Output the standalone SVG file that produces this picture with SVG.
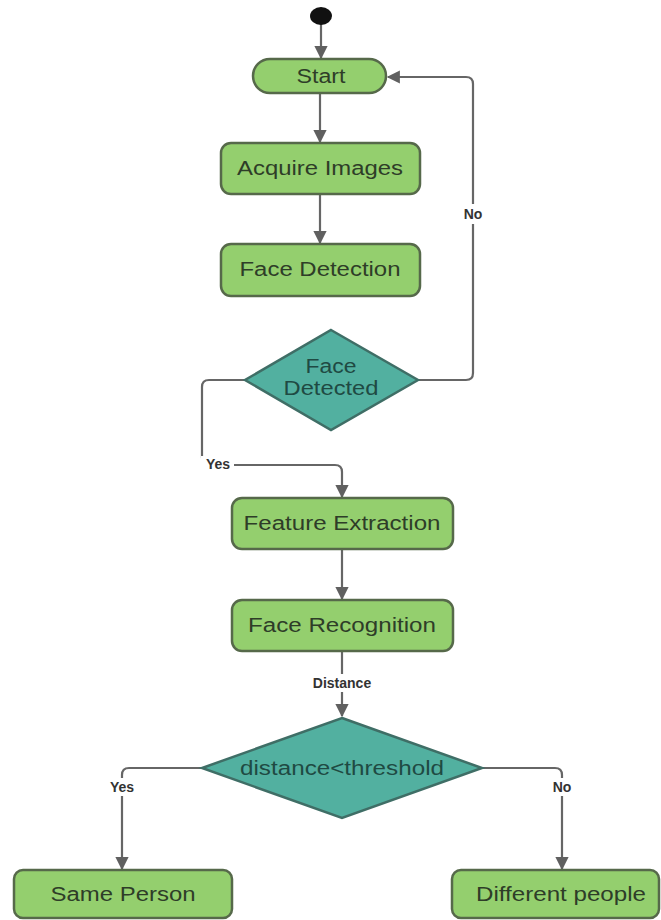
<svg xmlns="http://www.w3.org/2000/svg" width="661" height="920" viewBox="0 0 661 920">
<defs>
<marker id="arr" viewBox="0 0 10 10" refX="9" refY="5" markerWidth="6.5" markerHeight="6" orient="auto" markerUnits="strokeWidth">
<path d="M0,0 L10,5 L0,10 z" fill="#606060"/>
</marker>
<style>
.box{fill:#94cf6e;stroke:#56694a;stroke-width:2.5}
.dia{fill:#52b0a0;stroke:#3f6e66;stroke-width:2.5}
.t{font-family:"Liberation Sans",Arial,sans-serif;font-size:20px;fill:#2e3d28;text-anchor:middle}
.td{font-family:"Liberation Sans",Arial,sans-serif;font-size:20px;fill:#1f4a43;text-anchor:middle}
.lbl{font-family:"Liberation Sans",Arial,sans-serif;font-size:14px;font-weight:bold;fill:#333;text-anchor:middle}
.c{fill:none;stroke:#666;stroke-width:2.2}
.bg{fill:#fff}
</style>
</defs>
<rect width="661" height="920" fill="#fff"/>
<g id="connectors">
<path class="c" d="M321,24 V58" marker-end="url(#arr)"/>
<path class="c" d="M320,93 V142" marker-end="url(#arr)"/>
<path class="c" d="M320,194 V243" marker-end="url(#arr)"/>
<path class="c" d="M418,380 H466 Q473,380 473,373 V84 Q473,77 466,77 H388" marker-end="url(#arr)"/>
<path class="c" d="M245,380 H209 Q202,380 202,387 V458 Q202,465 209,465 H335 Q342,465 342,472 V497" marker-end="url(#arr)"/>
<path class="c" d="M342,549 V599" marker-end="url(#arr)"/>
<path class="c" d="M342,651 V716" marker-end="url(#arr)"/>
<path class="c" d="M202,768 H129 Q122,768 122,775 V869" marker-end="url(#arr)"/>
<path class="c" d="M482,768 H555 Q562,768 562,775 V869" marker-end="url(#arr)"/>
<rect class="bg" x="460" y="204" width="26" height="20"/>
<text class="lbl" x="473" y="219">No</text>
<rect class="bg" x="201" y="456" width="33" height="17"/>
<text class="lbl" x="218" y="469">Yes</text>
<rect class="bg" x="308" y="674" width="68" height="18"/>
<text class="lbl" x="342" y="688">Distance</text>
<rect class="bg" x="106" y="778" width="32" height="18"/>
<text class="lbl" x="122" y="792">Yes</text>
<rect class="bg" x="549" y="778" width="26" height="18"/>
<text class="lbl" x="562" y="792">No</text>
</g>
<g id="initial"><ellipse cx="321" cy="16" rx="11" ry="9" fill="#111"/></g>
<g id="start">
<rect class="box" x="253" y="59" width="133" height="34" rx="17"/>
<text class="t" x="321" y="83" textLength="49" lengthAdjust="spacingAndGlyphs">Start</text>
</g>
<g id="acquire">
<rect class="box" x="221" y="143" width="199" height="51" rx="10"/>
<text class="t" x="320" y="175" textLength="166" lengthAdjust="spacingAndGlyphs">Acquire Images</text>
</g>
<g id="facedet">
<rect class="box" x="221" y="244" width="199" height="52" rx="10"/>
<text class="t" x="320" y="276" textLength="161" lengthAdjust="spacingAndGlyphs">Face Detection</text>
</g>
<g id="facedetected">
<polygon class="dia" points="331,330 418,380 331,430 245,380"/>
<text class="td" x="331" y="373" textLength="51" lengthAdjust="spacingAndGlyphs">Face</text>
<text class="td" x="331" y="395" textLength="95" lengthAdjust="spacingAndGlyphs">Detected</text>
</g>
<g id="feature">
<rect class="box" x="232" y="498" width="221" height="51" rx="10"/>
<text class="t" x="342" y="530" textLength="197" lengthAdjust="spacingAndGlyphs">Feature Extraction</text>
</g>
<g id="recog">
<rect class="box" x="232" y="600" width="221" height="51" rx="10"/>
<text class="t" x="342" y="632" textLength="188" lengthAdjust="spacingAndGlyphs">Face Recognition</text>
</g>
<g id="threshold">
<polygon class="dia" points="342,718 482,768 342,818 202,768"/>
<text class="td" x="342" y="775" textLength="204" lengthAdjust="spacingAndGlyphs">distance&lt;threshold</text>
</g>
<g id="same">
<rect class="box" x="14" y="870" width="218" height="48" rx="9"/>
<text class="t" x="123" y="901" textLength="145" lengthAdjust="spacingAndGlyphs">Same Person</text>
</g>
<g id="diff">
<rect class="box" x="452" y="870" width="207" height="48" rx="9"/>
<text class="t" x="561" y="901" textLength="170" lengthAdjust="spacingAndGlyphs">Different people</text>
</g>
</svg>
